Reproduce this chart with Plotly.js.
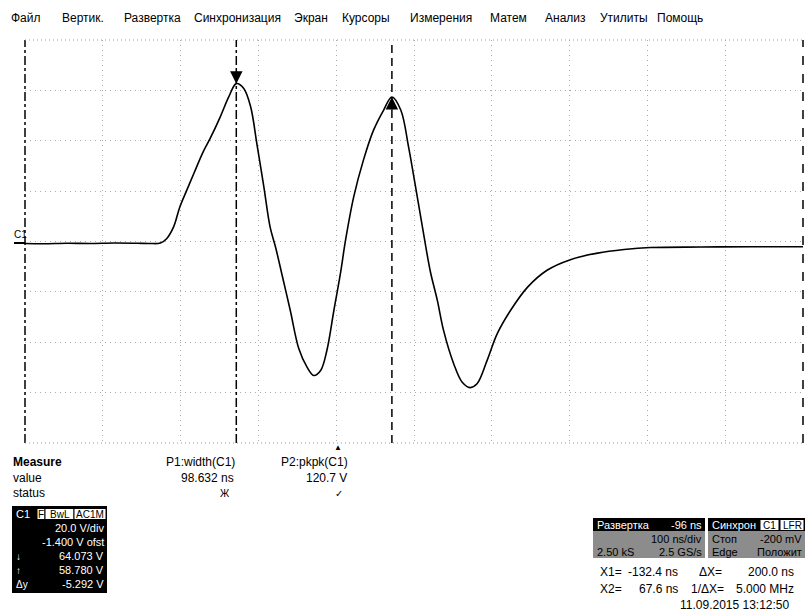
<!DOCTYPE html>
<html><head><meta charset="utf-8">
<script src="https://cdn.plot.ly/plotly-3.0.1.min.js"></script>
<style>html,body{margin:0;padding:0;background:#fff}#c{width:806px;height:615px}</style>
</head><body><div id="c"></div>
<script>
// ---- data (time in ns, voltage in V) ----
const timeNs = [-404,-380,-350,-320,-290,-260,-243,-230,-222,-213,-205,-196,-187,-175,-166,-153,-142,-132.4,-123,-114,-106,-97,-89,-82,-72,-63,-52,-41.5,-33,-24,-16,-7,1.4,8,18.5,31,44,57,67.6,79,89,98,109,117,126,134,147,158,168,177,190,203,220,242,267,297,332,366,400,465,530,596];
const voltV  = [0.6,0.5,0.7,0.6,0.8,0.7,0.6,0.8,2.5,7.2,15.1,21.8,28.4,37.0,42.3,50.9,58.9,64.07,62.2,54.9,40.3,23.1,7.2,-0.8,-14.0,-26.0,-41.2,-48.5,-51.8,-49.8,-41.9,-26.0,-11.4,1.9,19.1,33.7,45.6,53.6,58.78,53.6,39.0,23.1,3.2,-10.5,-22.0,-33.9,-47.1,-54.5,-56.6,-55.1,-45.8,-35.2,-26.0,-16.7,-10.0,-5.8,-3.2,-1.8,-1.0,-0.8,-0.7,-0.7];
const cursorTimes = [-132.4, 67.6];
const cursorLevels = [64.073, 58.780];
const menuItems = ["Файл","Вертик.","Развертка","Синхронизация","Экран","Курсоры","Измерения","Матем","Анализ","Утилиты","Помощь"];
const measHeaders = ["P1:width(C1)","P2:pkpk(C1)"];
const measValues = ["98.632 ns","120.7 V"];
const measStatus = ["Ж","✓"];
const c1Lines = ["20.0 V/div","-1.400 V ofst","64.073 V","58.780 V","-5.292 V"];
const c1Icons = ["","","↓","↑","Δy"];

// ---- layout geometry ----
const W=806,H=615,L=25,R=803,T=40,B=443;
const menuX=[9,60,122,192,292,340,408,488,543,598,655];
const px=x=>(x-L)/(R-L), py=y=>(B-y)/(B-T);
const FONT="Liberation Sans, Arial, sans-serif";
const ann=[], shp=[];
function txt(t,x,y,o={}){ann.push(Object.assign({text:t,xref:'paper',yref:'paper',x:px(x),y:py(y),xanchor:'left',yanchor:'middle',showarrow:false,font:{family:FONT,size:12,color:'#000'}},o));}
function rect(x0,y0,x1,y1,fill,line){shp.push({type:'rect',xref:'paper',yref:'paper',x0:px(x0),x1:px(x1),y0:py(y0),y1:py(y1),fillcolor:fill,line:line||{width:0},layer:'above'});}
function boxLabel(t,x0,x1,yc){rect(x0,yc-5.5,x1,yc+5.5,'#fff',{color:'#000',width:1});txt(t,(x0+x1)/2,yc,{xanchor:'center',font:{family:FONT,size:10,color:'#000'}});}

// menu
menuItems.forEach((m,i)=>txt(m,menuX[i],18,{font:{family:FONT,size:12,color:'#000'}}));

// frame
shp.push({type:'line',xref:'paper',yref:'paper',x0:0,x1:0,y0:0,y1:1,line:{color:'#000',width:1.5,dash:'dashdot'}});
shp.push({type:'line',xref:'paper',yref:'paper',x0:1,x1:1,y0:0,y1:1,line:{color:'#000',width:1.5,dash:'dash'}});
shp.push({type:'line',xref:'paper',yref:'paper',x0:0,x1:1,y0:1,y1:1,line:{color:'#999',width:1,dash:'1px,3px'}});
shp.push({type:'line',xref:'paper',yref:'paper',x0:0,x1:1,y0:0,y1:0,line:{color:'#999',width:1,dash:'1px,3px'}});
// cursors
shp.push({type:'line',xref:'x',yref:'paper',x0:cursorTimes[0],x1:cursorTimes[0],y0:0,y1:1,line:{color:'#000',width:1.5,dash:'dashdot'}});
shp.push({type:'line',xref:'x',yref:'paper',x0:cursorTimes[1],x1:cursorTimes[1],y0:0,y1:1,line:{color:'#000',width:1.5,dash:'8px,5px'}});
ann.push({x:cursorTimes[0],y:cursorLevels[0],xref:'x',yref:'y',text:'',showarrow:true,ax:0,ay:-14,arrowhead:2,arrowsize:1,arrowwidth:2.5,arrowcolor:'#000'});
ann.push({x:cursorTimes[1],y:cursorLevels[1],xref:'x',yref:'y',text:'',showarrow:true,ax:0,ay:14,arrowhead:2,arrowsize:1,arrowwidth:2.5,arrowcolor:'#000'});
// C1 ground marker
txt('C1',12,234,{font:{family:FONT,size:10,color:'#000'}});
shp.push({type:'line',xref:'paper',yref:'paper',x0:px(14),x1:px(25),y0:py(243),y1:py(243),line:{color:'#000',width:2}});
// trigger marker
txt('▲',338,447,{xanchor:'center',font:{family:FONT,size:8,color:'#000'}});

// Measure table
txt('<b>Measure</b>',11,462);
txt('value',11,478); txt('status',11,493);
const measX=[237,350];
measHeaders.forEach((h,i)=>{txt(h,measX[i],462,{xanchor:'right'});txt(measValues[i],measX[i]-1,478,{xanchor:'right'});txt(measStatus[i],measX[i]-5,493,{xanchor:'right',font:{family:FONT,size:10,color:'#000'}});});

// C1 box
rect(12,506,107,593,'#000');
txt('C1',14,514,{font:{family:FONT,size:11,color:'#fff'}});
boxLabel('F',37,45,514); boxLabel('BwL',45,74,514); boxLabel('AC1M',74,106,514);
const c1Y=[528,542,556,570,584];
c1Lines.forEach((s,i)=>{txt(s,106,c1Y[i],{xanchor:'right',font:{family:FONT,size:11,color:'#fff'}}); if(c1Icons[i]) txt(c1Icons[i],14,c1Y[i],{font:{family:FONT,size:10,color:'#fff'}});});

// Развертка box
rect(593,518,705,558,'#8c8c8c');
rect(593,518,705,531,'#000');
txt('Развертка',595,525,{font:{family:FONT,size:11,color:'#fff'}});
txt('-96 ns',704,525,{xanchor:'right',font:{family:FONT,size:11,color:'#fff'}});
txt('100 ns/div',704,539,{xanchor:'right',font:{family:FONT,size:11,color:'#000'}});
txt('2.50 kS',595,552,{font:{family:FONT,size:11,color:'#000'}});
txt('2.5 GS/s',704,552,{xanchor:'right',font:{family:FONT,size:11,color:'#000'}});
// Синхрон box
rect(708,518,805,558,'#8c8c8c');
rect(708,518,805,531,'#000');
txt('Синхрон',710,525,{font:{family:FONT,size:11,color:'#fff'}});
boxLabel('C1',760,779,525); boxLabel('LFR',780,804,525);
txt('Стоп',710,539,{font:{family:FONT,size:11,color:'#000'}});
txt('-200 mV',804,539,{xanchor:'right',font:{family:FONT,size:11,color:'#000'}});
txt('Edge',710,552,{font:{family:FONT,size:11,color:'#000'}});
txt('Положит',804,552,{xanchor:'right',font:{family:FONT,size:11,color:'#000'}});

// cursor readouts
txt('X1=',598,572); txt('-132.4 ns',680,572,{xanchor:'right'}); txt('ΔX=',697,572); txt('200.0 ns',796,572,{xanchor:'right'});
txt('X2=',598,589); txt('67.6 ns',680,589,{xanchor:'right'}); txt('1/ΔX=',689,589); txt('5.000 MHz',796,589,{xanchor:'right'});
txt('11.09.2015 13:12:50',792,605,{xanchor:'right'});

const trace={x:timeNs,y:voltV,type:'scatter',mode:'lines',line:{color:'#000',width:1.6,shape:'spline',smoothing:1},hoverinfo:'none'};
const ax={showticklabels:false,ticks:'',zeroline:false,showline:false,showgrid:true,gridcolor:'#aaaaaa',griddash:'1px,4px',gridwidth:1,fixedrange:true};
const layout={width:W,height:H,margin:{l:L,r:W-R,t:T,b:H-B},paper_bgcolor:'#fff',plot_bgcolor:'#fff',showlegend:false,
 xaxis:Object.assign({range:[-404,596],tick0:-404,dtick:100},ax),
 yaxis:Object.assign({range:[-78.6,81.4],tick0:-78.6,dtick:20},ax),
 shapes:shp,annotations:ann,font:{family:FONT}};
Plotly.newPlot('c',[trace],layout,{staticPlot:true,displayModeBar:false});
</script></body></html>
